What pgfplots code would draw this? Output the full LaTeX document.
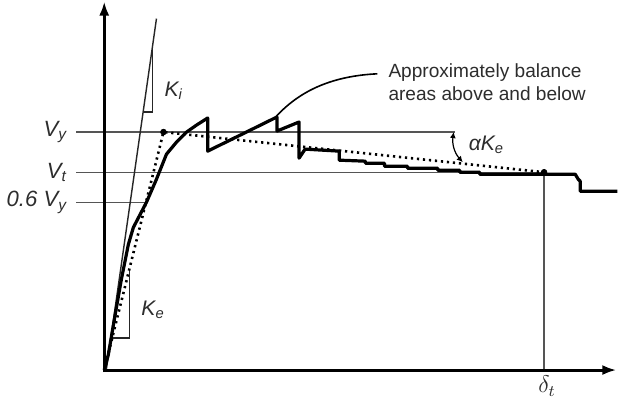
\documentclass[border=0pt]{standalone}
\usepackage{fontspec}
\setmainfont{Liberation Sans}
\usepackage{pgfplots}
\pgfplotsset{compat=1.18}
\usetikzlibrary{arrows.meta}
\definecolor{refgray}{RGB}{85,85,85}
\definecolor{txtgray}{RGB}{45,45,45}

\begin{document}
\begin{tikzpicture}
\begin{axis}[
    width=309.5pt, height=202.5pt, scale only axis,
    xmin=-108, xmax=511, ymin=-25, ymax=380,
    hide axis, clip=false]

% reference levels V_y, V_t, 0.6 V_y and delta_t
\addplot[refgray, line width=0.7pt] coordinates {(-28,237)(349,237)};
\addplot[refgray, line width=0.7pt] coordinates {(-28,197)(438,197)};
\addplot[refgray, line width=0.7pt] coordinates {(-28,167)(42,167)};
\addplot[refgray, line width=0.7pt] coordinates {(438,0)(438,197)};

% initial stiffness K_i
\addplot[black!85, line width=0.7pt] coordinates {(2,0)(52,350)};
\addplot[black!85, line width=0.6pt] coordinates {(39,257)(48,257)(48,324)};
% effective stiffness triangle K_e
\addplot[black!85, line width=0.6pt] coordinates {(8,32)(25,32)(25,100)};

% idealized bilinear curve
\addplot[black, line width=1.3pt, dash pattern=on 1.1pt off 1.9pt]
    coordinates {(0,0)(59,237)(438,197)};
\addplot[only marks, mark=*, mark size=1.4pt, black]
    coordinates {(59,237)(438,197)};

% pushover curve
\addplot[black, line width=1.6pt, line join=round] coordinates {
 (0,0)(4,15)(10,50)(17,90)(24,125)(29,142)(42,167)(52,190)(62,215)
 (72,227)(82,237)(92,244)(103,251)(103,218)(172,252)(172,238)(194,247)
 (194,211)(200,220)(234,218)(234,209)(260,208)(260,206)(279,206)(279,203)
 (302,203)(302,201)(332,201)(332,199)(354,199)(354,197)(374,197)(374,195)
 (469,195)(472,190)(474,188)(474,178)(511,178)
};

% axes
\draw[black, line width=1.5pt, -{Latex[length=7pt,width=5pt]}]
    (axis cs:0,-2) -- (axis cs:0,367);
\draw[black, line width=1.5pt, -{Latex[length=7pt,width=5pt]}]
    (axis cs:-1,0) -- (axis cs:510,0);

% annotation
\draw[black, line width=0.8pt] (axis cs:169,250)
    .. controls (axis cs:195,280) and (axis cs:230,293) .. (axis cs:272,295);
\node[anchor=west, align=left, text=txtgray, font=\fontsize{9.5}{11.5}\selectfont]
    at (axis cs:276,287) {Approximately balance\\areas above and below};

\draw[black, line width=0.6pt, {Latex[length=3pt,width=3pt]}-{Latex[length=3pt,width=3pt]}]
    (axis cs:348,237) to[bend right=25] (axis cs:357,207);
\node[anchor=west, text=txtgray, font=\fontsize{10.5}{12}\selectfont]
    at (axis cs:356,224) {\itshape αK\textsubscript{e}};

% labels
\node[anchor=east, text=txtgray, font=\fontsize{11}{13}\selectfont]
    at (axis cs:-30,237) {\itshape V\textsubscript{y}};
\node[anchor=east, text=txtgray, font=\fontsize{11}{13}\selectfont]
    at (axis cs:-30,197) {\itshape V\textsubscript{t}};
\node[anchor=east, text=txtgray, font=\fontsize{11}{13}\selectfont]
    at (axis cs:-30,167) {\itshape 0.6 V\textsubscript{y}};
\node[anchor=west, text=txtgray, font=\fontsize{10.5}{12}\selectfont]
    at (axis cs:53,278) {\itshape K\textsubscript{i}};
\node[anchor=west, text=txtgray, font=\fontsize{10.5}{12}\selectfont]
    at (axis cs:30,60) {\itshape K\textsubscript{e}};
\node[text=txtgray, font=\fontsize{12}{14}\selectfont]
    at (axis cs:441,-16) {$\delta_t$};

\end{axis}
\end{tikzpicture}
\end{document}
